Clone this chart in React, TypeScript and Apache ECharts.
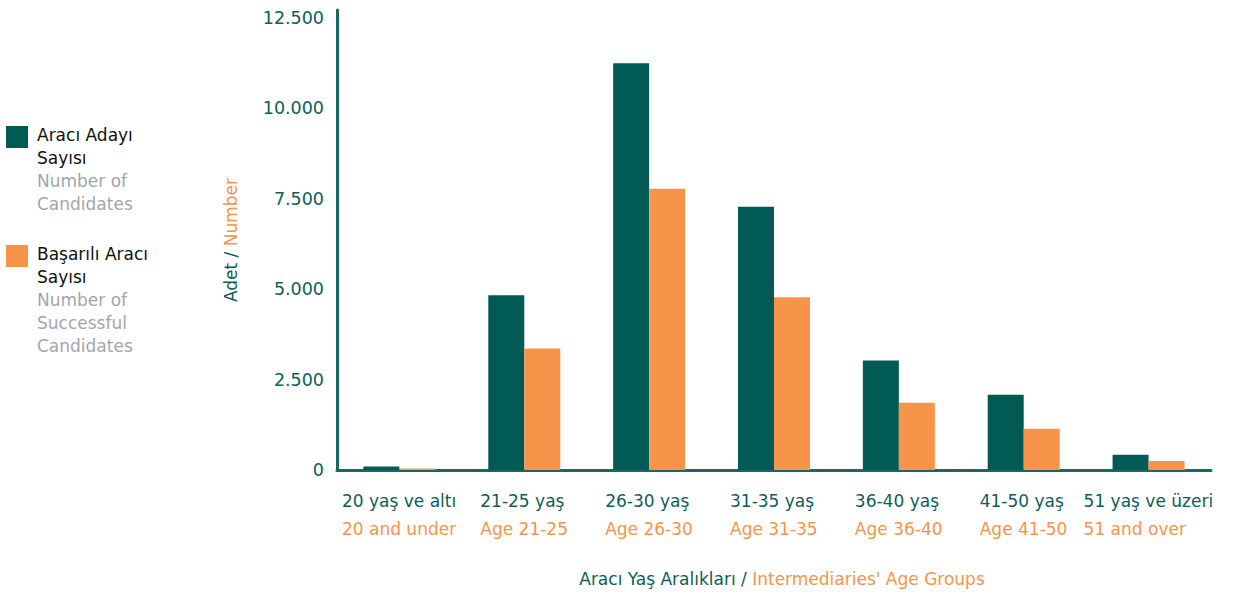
import React, { useEffect, useRef } from "react";
import * as echarts from "echarts";

const categoriesTr = ["20 yaş ve altı", "21-25 yaş", "26-30 yaş", "31-35 yaş", "36-40 yaş", "41-50 yaş", "51 yaş ve üzeri"];
const categoriesEn = ["20 and under", "Age 21-25", "Age 26-30", "Age 31-35", "Age 36-40", "Age 41-50", "51 and over"];
const candidates = [100, 4830, 11250, 7280, 3030, 2080, 420];
const successful = [40, 3360, 7780, 4780, 1860, 1140, 250];
const seriesNames = ["Aracı Adayı Sayısı", "Başarılı Aracı Sayısı"];
const legendTr = [["Aracı Adayı", "Sayısı"], ["Başarılı Aracı", "Sayısı"]];
const legendEn = [["Number of", "Candidates"], ["Number of", "Successful", "Candidates"]];

const DARK = "#025A55";
const ORANGE = "#F7944A";
const TEAL_TEXT = "#0D5E58";
const AXIS = "#1B6863";
const GRAY = "#A2A6AA";
const FONT = "DejaVu Sans";
const LABEL_SIZE = 17;

export default function App() {
  const ref = useRef<HTMLDivElement>(null);
  useEffect(() => {
    if (!ref.current) return;
    const chart = echarts.init(ref.current, null, { renderer: "svg" });

    const legendGraphics: any[] = [];
    const legendTop = [126, 245];
    const colors = [DARK, ORANGE];
    for (let i = 0; i < 2; i++) {
      legendGraphics.push({
        type: "rect",
        shape: { x: 6, y: legendTop[i], width: 22, height: 22 },
        style: { fill: colors[i] },
      });
      const lines = [...legendTr[i].map((t) => ({ t, c: "#111111" })), ...legendEn[i].map((t) => ({ t, c: GRAY }))];
      lines.forEach((ln, j) => {
        legendGraphics.push({
          type: "text",
          x: 37,
          y: legendTop[i] + 9 + j * 23,
          style: {
            text: ln.t,
            fill: ln.c,
            font: `17px "${FONT}"`,
            verticalAlign: "middle",
            align: "left",
          },
        });
      });
    }

    // measure label widths so both lines are left-aligned in a centred block
    const canvas = document.createElement("canvas");
    const ctx = canvas.getContext("2d")!;
    ctx.font = `${LABEL_SIZE}px "${FONT}"`;
    const rich: any = {};
    categoriesTr.forEach((c, i) => {
      const w = Math.ceil(Math.max(ctx.measureText(c).width, ctx.measureText(categoriesEn[i]).width));
      rich[`a${i}`] = { color: TEAL_TEXT, fontSize: LABEL_SIZE, fontFamily: FONT, lineHeight: 28, width: w, align: "left" };
      rich[`b${i}`] = { color: ORANGE, fontSize: LABEL_SIZE, fontFamily: FONT, lineHeight: 28, width: w, align: "left" };
    });

    chart.setOption({
      animation: false,
      grid: { left: 337, right: 35, top: 10, bottom: 118, containLabel: false },
      xAxis: {
        type: "category",
        data: categoriesTr,
        axisLine: { show: true, lineStyle: { color: AXIS, width: 3 } },
        axisTick: { show: false },
        axisLabel: {
          margin: 17,
          interval: 0,
          formatter: (v: string, idx: number) => `{a${idx}|${v}}\n{b${idx}|${categoriesEn[idx]}}`,
          rich,
        },
        name: "{a|Aracı Yaş Aralıkları / }{b|Intermediaries' Age Groups}",
        nameLocation: "middle",
        nameGap: 100,
        nameTextStyle: {
          padding: [0, 0, 0, 16],
          rich: {
            a: { color: TEAL_TEXT, fontSize: 17, fontFamily: FONT },
            b: { color: ORANGE, fontSize: 17, fontFamily: FONT },
          },
        },
      },
      yAxis: {
        type: "value",
        min: 0,
        max: 12722,
        interval: 2500,
        axisLine: { show: true, lineStyle: { color: AXIS, width: 3 } },
        axisTick: { show: false },
        splitLine: { show: false },
        axisLabel: {
          showMaxLabel: false,
          margin: 13,
          color: TEAL_TEXT,
          fontSize: 17.5,
          fontFamily: FONT,
          formatter: (v: number) => (v > 12500 ? "" : v.toLocaleString("de-DE")),
        },
        name: "{a|Adet / }{b|Number}",
        nameLocation: "middle",
        nameGap: 98,
        nameTextStyle: {
          rich: {
            a: { color: TEAL_TEXT, fontSize: 17, fontFamily: FONT },
            b: { color: ORANGE, fontSize: 17, fontFamily: FONT },
          },
        },
      },
      series: [
        {
          name: seriesNames[0],
          type: "bar",
          data: candidates,
          barWidth: 36,
          barGap: "0%",
          itemStyle: { color: DARK },
        },
        {
          name: seriesNames[1],
          type: "bar",
          data: successful,
          barWidth: 36,
          barGap: "0%",
          itemStyle: { color: ORANGE },
        },
      ],
      graphic: legendGraphics,
    });
    return () => chart.dispose();
  }, []);
  return <div ref={ref} style={{ width: 1246, height: 592, position: "absolute", left: 0, top: 0 }} />;
}
